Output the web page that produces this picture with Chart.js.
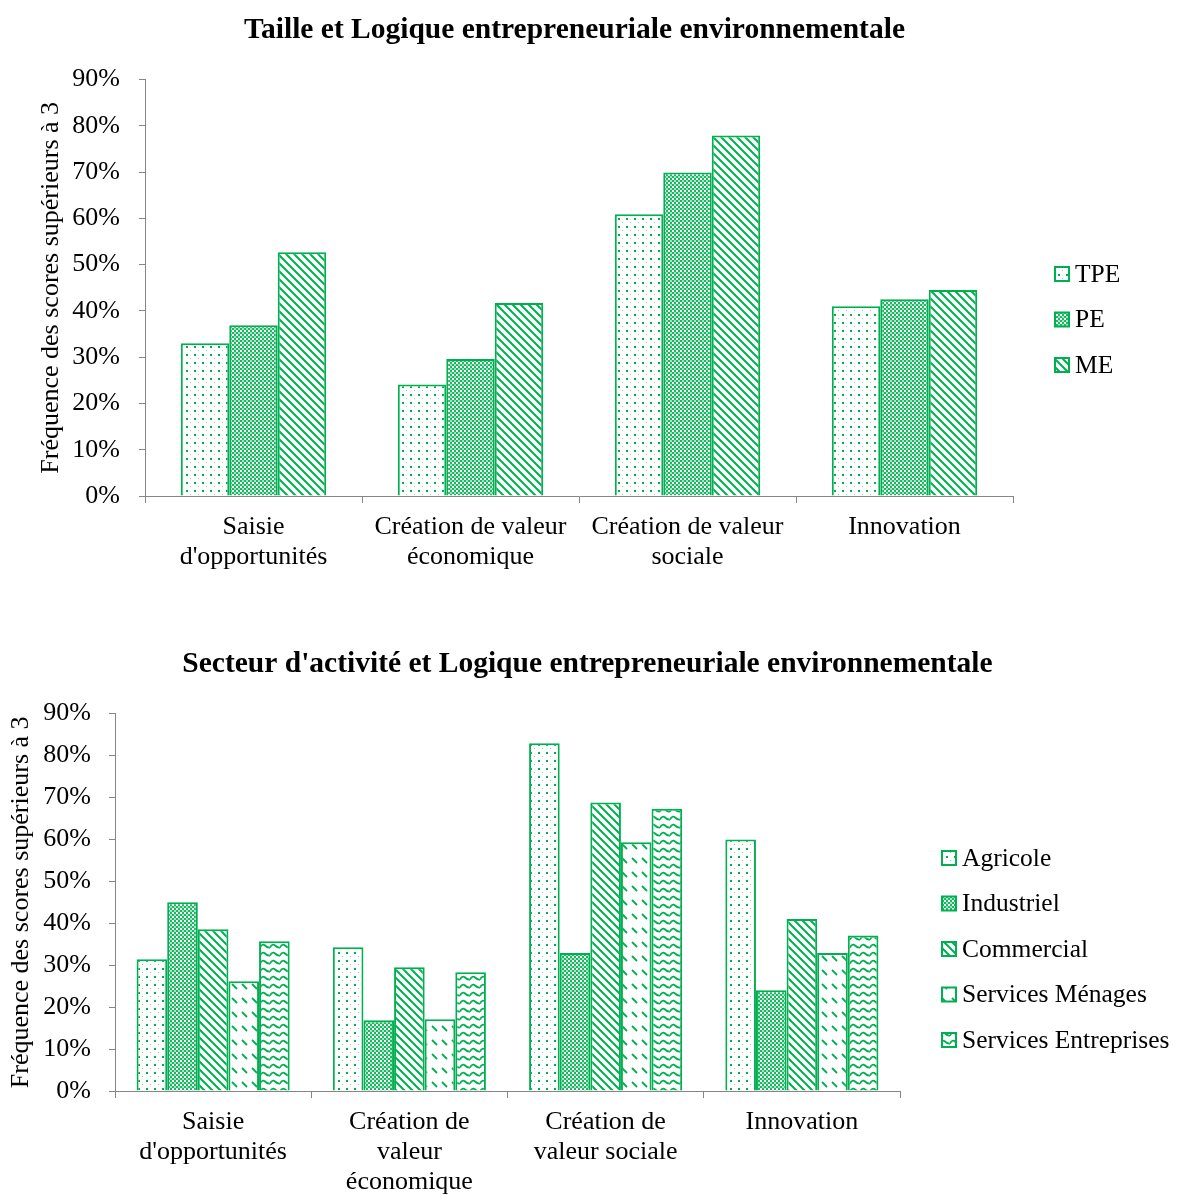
<!DOCTYPE html>
<html>
<head>
<meta charset="utf-8">
<script src="https://cdn.jsdelivr.net/npm/chart.js@4"></script>
<style>
html,body{margin:0;padding:0;background:#fff;}
#wrap{position:relative;width:1179px;height:1197px;overflow:hidden;background:#fff;}
canvas{position:absolute;left:0;}
</style>
</head>
<body>
<div id="wrap">
<canvas id="c1" width="1179" height="600" style="top:0"></canvas>
<canvas id="c2" width="1179" height="567" style="top:630px"></canvas>
</div>
<script>
// ---------- DATA ----------
const title1 = "Taille et Logique entrepreneuriale environnementale";
const title2 = "Secteur d'activité et Logique entrepreneuriale environnementale";
const yAxisTitle = "Fréquence des scores supérieurs à 3";
const categories1 = [["Saisie","d'opportunités"],["Création de valeur","économique"],["Création de valeur","sociale"],"Innovation"];
const categories2 = [["Saisie","d'opportunités"],["Création de","valeur","économique"],["Création de","valeur sociale"],"Innovation"];
const sizeLabels = ["TPE","PE","ME"];
const tpe = [33.0, 24.1, 60.9, 41.0];
const pe  = [36.9, 29.6, 69.9, 42.5];
const me  = [52.7, 41.7, 77.9, 44.5];
const sectorLabels = ["Agricole","Industriel","Commercial","Services Ménages","Services Entreprises"];
const agricole   = [31.4, 34.3, 82.9, 60.0];
const industriel = [45.0, 16.9, 32.9, 24.0];
const commercial = [38.6, 29.5, 68.8, 41.0];
const servMenages = [26.2, 17.1, 59.3, 32.9];
const servEntreprises = [35.7, 28.3, 67.3, 37.1];
const yMax = 90, yStep = 10;

// ---------- STYLE ----------
const G = '#00B050';
const GRAY = '#868686';
const FONT = "'Liberation Serif', 'Times New Roman', serif";

function tile(w, h, draw){
  const c = document.createElement('canvas'); c.width = w; c.height = h;
  const x = c.getContext('2d'); x.fillStyle = '#fff'; x.fillRect(0,0,w,h);
  x.fillStyle = G; x.strokeStyle = G; draw(x);
  return document.getElementById('c1').getContext('2d').createPattern(c, 'repeat');
}
const patDots = tile(8, 8, x => { x.fillRect(2,2,2,2); x.globalAlpha=0.6; x.fillRect(6,6,1,1); });
const patChecker = tile(4, 4, x => { x.globalAlpha=0.9; x.fillRect(0,0,2,2); x.fillRect(2,2,2,2); x.globalAlpha=0.35; x.fillRect(2,0,2,2); });
const patDiag = tile(8, 8, x => { x.lineWidth = 2; for (let i=-1;i<=1;i++){ x.beginPath(); x.moveTo(i*8-1,-1); x.lineTo(i*8+9,9); x.stroke(); } });
const patDashDiag = tile(10, 14, x => { x.lineWidth = 1.8; x.beginPath(); x.moveTo(2,4); x.lineTo(7,9); x.stroke(); });
const patWave = tile(10, 8, x => { x.lineWidth = 1.8; x.beginPath(); x.moveTo(0,5.5); x.quadraticCurveTo(2.5,1,5,3.5); x.quadraticCurveTo(7.5,6,10,5.5); x.stroke(); });

const sideLegend = {
  id: 'sideLegend',
  afterDraw(chart, args, o){
    const ctx = chart.ctx; ctx.save();
    ctx.font = o.size + 'px ' + FONT; ctx.textBaseline = 'middle'; ctx.textAlign = 'left';
    chart.data.datasets.forEach((ds, i) => {
      const cy = o.y0 + i * o.step;
      ctx.fillStyle = ds.backgroundColor; ctx.fillRect(o.x, cy - 7, 14, 14);
      ctx.strokeStyle = G; ctx.lineWidth = 2; ctx.strokeRect(o.x, cy - 7, 14, 14);
      ctx.fillStyle = '#000'; ctx.fillText(ds.label, o.x + 20, cy + 1);
    });
    ctx.restore();
  }
};

function makeChart(id, cats, labels, series, pats, cfg){
  return new Chart(document.getElementById(id), {
    type: 'bar',
    data: {
      labels: cats,
      datasets: series.map((s, i) => ({
        label: labels[i], data: s, backgroundColor: pats[i], borderColor: G, borderWidth: 2,
        barPercentage: 1, categoryPercentage: cfg.catPct
      }))
    },
    options: {
      responsive: false, animation: false,
      layout: { padding: { left: 0, right: cfg.layoutRight, top: 0, bottom: 0 } },
      plugins: {
        legend: { display: false },
        tooltip: { enabled: false },
        title: { display: true, text: cfg.title, color: '#000',
          font: { family: FONT, size: 29.5, weight: 'bold', lineHeight: 1.2 },
          padding: { top: cfg.titleTop, bottom: cfg.titleBottom } },
        sideLegend: cfg.legend
      },
      scales: {
        y: {
          min: 0, max: yMax,
          border: { color: GRAY, width: 1 },
          grid: { drawOnChartArea: false, drawTicks: true, tickLength: 6, color: GRAY },
          ticks: { stepSize: yStep, padding: cfg.yTickPad, color: '#000', font: { family: FONT, size: 26 },
            callback: v => v + '%' },
          title: { display: true, text: yAxisTitle, color: '#000', font: { family: FONT, size: 26, lineHeight: 1.2 },
            padding: { top: cfg.yTitlePad, bottom: 0 } },
          afterFit: s => { s.width = cfg.yWidth; }
        },
        spacer: {
          type: 'linear', position: 'right', display: true,
          border: { display: false }, grid: { display: false }, ticks: { display: false },
          afterFit: s => { s.width = cfg.padRight - cfg.layoutRight; }
        },
        x: {
          border: { color: GRAY, width: 1 },
          grid: { drawOnChartArea: false, drawTicks: true, tickLength: 7, color: GRAY, offset: true },
          ticks: { padding: 9, color: '#000', maxRotation: 0, autoSkip: false,
            font: { family: FONT, size: 26, lineHeight: 1.15 } },
          afterFit: s => { s.height = cfg.xHeight; }
        }
      }
    },
    plugins: [sideLegend]
  });
}

makeChart('c1', categories1, sizeLabels, [tpe, pe, me], [patDots, patChecker, patDiag], {
  catPct: 0.67, padRight: 166, layoutRight: 30, title: title1, titleTop: 12.6, titleBottom: 31.6,
  yTickPad: 19, yTitlePad: 36, yWidth: 145, xHeight: 104,
  legend: { x: 1055, y0: 274, step: 45.5, size: 25.5 }
});
makeChart('c2', categories2, sectorLabels, [agricole, industriel, commercial, servMenages, servEntreprises],
  [patDots, patChecker, patDiag, patDashDiag, patWave], {
  catPct: 0.78, padRight: 279, layoutRight: 4, title: title2, titleTop: 16.6, titleBottom: 31.6,
  yTickPad: 18, yTitlePad: 6, yWidth: 115, xHeight: 106,
  legend: { x: 942, y0: 228, step: 45.5, size: 25.5 }
});
</script>
</body>
</html>
